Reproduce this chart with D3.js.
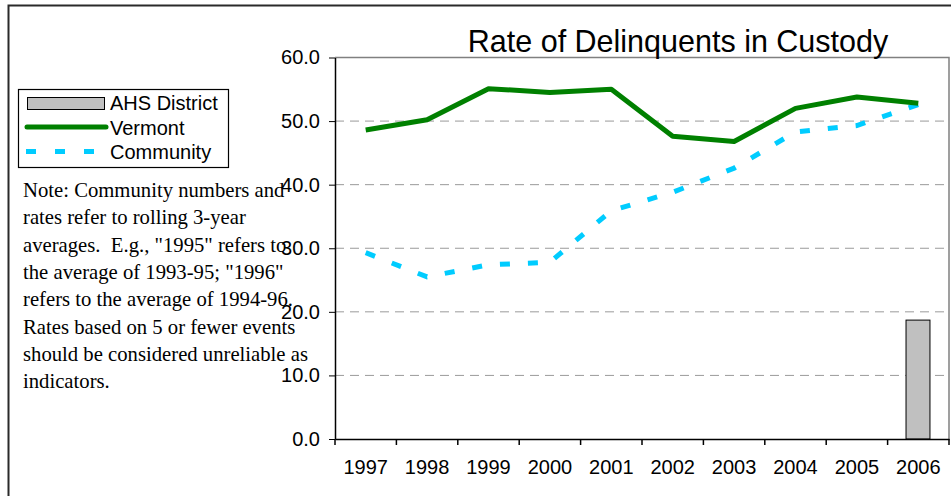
<!DOCTYPE html>
<html>
<head>
<meta charset="utf-8">
<script src="https://cdn.jsdelivr.net/npm/d3@7/dist/d3.min.js"></script>
<style>
  html, body { margin: 0; padding: 0; background: #fff; }
  svg { display: block; }
</style>
</head>
<body>
<script>
// Chart data
const years = ["1997", "1998", "1999", "2000", "2001", "2002", "2003", "2004", "2005", "2006"];
const ahsDistrict = [null, null, null, null, null, null, null, null, null, 18.7];
const vermont = [48.6, 50.2, 55.1, 54.5, 55.0, 47.6, 46.8, 52.0, 53.8, 52.8];
const community = [29.3, 25.5, 27.4, 27.8, 35.9, 38.8, 42.6, 48.3, 49.3, 52.6];
const yTicks = [0, 10, 20, 30, 40, 50, 60];
const title = "Rate of Delinquents in Custody";
const noteLines = [
  "Note: Community numbers and",
  "rates refer to rolling 3-year",
  "averages.  E.g., \"1995\" refers to",
  "the average of 1993-95; \"1996\"",
  "refers to the average of 1994-96.",
  "Rates based on 5 or fewer events",
  "should be considered unreliable as",
  "indicators."
];

const W = 951, H = 496;
const plot = { left: 335, top: 57.5, right: 949, bottom: 439 };

const svg = d3.select("body").append("svg")
  .attr("width", W).attr("height", H);

// outer frame
svg.append("rect")
  .attr("x", 8.5).attr("y", 5.5)
  .attr("width", 1000).attr("height", 600)
  .attr("fill", "#fff").attr("stroke", "#2a2a2a").attr("stroke-width", 2);

const x = d3.scaleBand().domain(years).range([plot.left, plot.right]);
const y = d3.scaleLinear().domain([0, 60]).range([plot.bottom, plot.top]);

// gridlines
svg.append("g").selectAll("line")
  .data(yTicks.filter(t => t > 0 && t < 60))
  .join("line")
  .attr("x1", plot.left).attr("x2", plot.right)
  .attr("y1", d => y(d)).attr("y2", d => y(d))
  .attr("stroke", "#9a9a9a").attr("stroke-width", 1)
  .attr("stroke-dasharray", "9,6");

// plot area border (top and right)
svg.append("path")
  .attr("d", `M${plot.left},${y(60)}H${plot.right}V${plot.bottom}`)
  .attr("fill", "none").attr("stroke", "#808080").attr("stroke-width", 1.5);

// bars
svg.append("g").selectAll("rect")
  .data(years.map((yr, i) => ({ yr, v: ahsDistrict[i] })).filter(d => d.v != null))
  .join("rect")
  .attr("x", d => x(d.yr) + x.bandwidth() * 0.3)
  .attr("width", x.bandwidth() * 0.39)
  .attr("y", d => y(d.v))
  .attr("height", d => y(0) - y(d.v))
  .attr("fill", "#c0c0c0").attr("stroke", "#000").attr("stroke-width", 1);

const line = d3.line()
  .x((d, i) => x(years[i]) + x.bandwidth() / 2)
  .y(d => y(d));

svg.append("path").datum(community)
  .attr("d", line)
  .attr("fill", "none").attr("stroke", "#00ccff")
  .attr("stroke-width", 5).attr("stroke-dasharray", "10,18");

svg.append("path").datum(vermont)
  .attr("d", line)
  .attr("fill", "none").attr("stroke", "#008000")
  .attr("stroke-width", 5).attr("stroke-linejoin", "round");

// axes
const yAxis = d3.axisLeft(y).tickValues(yTicks).tickFormat(d3.format(".1f")).tickSize(6).tickSizeOuter(0);
const gy = svg.append("g").attr("transform", `translate(${plot.left},0)`).call(yAxis);
gy.select(".domain").attr("stroke", "#000").attr("stroke-width", 1.5);
gy.selectAll(".tick line").attr("stroke", "#000");
gy.selectAll(".tick text")
  .attr("x", -15)
  .attr("font-family", "Arial, 'Liberation Sans', sans-serif")
  .attr("font-size", 20).attr("fill", "#000");

const xAxis = d3.axisBottom(x).tickSize(0).tickSizeOuter(0);
const gx = svg.append("g").attr("transform", `translate(0,${plot.bottom})`).call(xAxis);
gx.select(".domain").attr("stroke", "#000").attr("stroke-width", 1.5);
gx.selectAll(".tick text")
  .attr("y", 21)
  .attr("font-family", "Arial, 'Liberation Sans', sans-serif")
  .attr("font-size", 20).attr("fill", "#000");
// category boundary ticks
gx.append("g").selectAll("line")
  .data(years.map(yr => x(yr)).concat([plot.right]))
  .join("line")
  .attr("x1", d => d).attr("x2", d => d)
  .attr("y1", 0).attr("y2", 6)
  .attr("stroke", "#000").attr("stroke-width", 1.5);

// title
svg.append("text")
  .attr("x", 678).attr("y", 52)
  .attr("text-anchor", "middle")
  .attr("font-family", "Arial, 'Liberation Sans', sans-serif")
  .attr("font-size", 30.5).attr("fill", "#000")
  .text(title);

// legend
const lg = svg.append("g");
lg.append("rect")
  .attr("x", 18.5).attr("y", 89.5).attr("width", 210).attr("height", 78)
  .attr("fill", "#fff").attr("stroke", "#000").attr("stroke-width", 1.2);
lg.append("rect")
  .attr("x", 27.5).attr("y", 97.5).attr("width", 77).attr("height", 12)
  .attr("fill", "#c0c0c0").attr("stroke", "#000").attr("stroke-width", 1);
lg.append("line")
  .attr("x1", 27).attr("x2", 106).attr("y1", 127).attr("y2", 127)
  .attr("stroke", "#008000").attr("stroke-width", 5).attr("stroke-linecap", "round");
lg.append("line")
  .attr("x1", 26).attr("x2", 106).attr("y1", 151.5).attr("y2", 151.5)
  .attr("stroke", "#00ccff").attr("stroke-width", 5).attr("stroke-dasharray", "10,19");
const legendItems = ["AHS District", "Vermont", "Community"];
lg.selectAll("text.lab").data(legendItems).join("text")
  .attr("class", "lab")
  .attr("x", 110).attr("y", (d, i) => 110 + i * 24.5)
  .attr("font-family", "Arial, 'Liberation Sans', sans-serif")
  .attr("font-size", 20).attr("fill", "#000")
  .text(d => d);

// note
svg.append("g").selectAll("text").data(noteLines).join("text")
  .attr("x", 23).attr("y", (d, i) => 197 + i * 27.3)
  .attr("font-family", "'Times New Roman', 'Liberation Serif', serif")
  .attr("font-size", 20.7).attr("fill", "#000")
  .style("white-space", "pre")
  .text(d => d);
</script>
</body>
</html>
